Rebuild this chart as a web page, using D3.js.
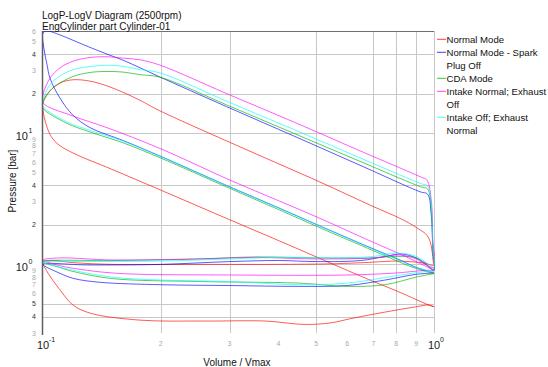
<!DOCTYPE html>
<html><head><meta charset="utf-8">
<script src="https://cdn.jsdelivr.net/npm/d3@7"></script>
<style>body{margin:0;background:#fff;} svg{display:block;font-family:"Liberation Sans",Arial,sans-serif;}</style>
</head><body><svg id="c" width="548" height="367"></svg>
<script>
// ---------- data ----------
const titleLines = ["LogP-LogV Diagram (2500rpm)", "EngCylinder part Cylinder-01"];
const xTitle = "Volume / Vmax";
const yTitle = "Pressure [bar]";
const seriesNames = ["Normal Mode", "Normal Mode - Spark Plug Off", "CDA Mode", "Intake Normal; Exhaust Off", "Intake Off; Exhaust Normal"];
const legendLines = [["Normal Mode"], ["Normal Mode - Spark", "Plug Off"], ["CDA Mode"], ["Intake Normal; Exhaust", "Off"], ["Intake Off; Exhaust", "Normal"]];
const seriesColors = ["#ff0000", "#0000ff", "#00b000", "#ff00ff", "#00ffff"];

const xMajorTicks = [0.1, 1];
const xMinorTicks = [0.2, 0.3, 0.4, 0.5, 0.6, 0.7, 0.8, 0.9];
const xGrid = [0.2, 0.3, 0.5, 0.7, 0.8, 0.9, 1];
const yMajorTicks = [1, 10];
const yMinorTicks = [0.3, 0.4, 0.5, 0.6, 0.7, 0.8, 0.9, 2, 3, 4, 5, 6, 7, 8, 9, 20, 30, 40, 50, 60];
const yGrid = [0.4, 0.5, 1, 2, 4, 10, 20, 40];

// Normal Mode: compression, expansion, exhaust, intake
const normalV = [1.0,0.97,0.9,0.8,0.7,0.6,0.5,0.4,0.3,0.2,0.15,0.12,0.11,0.105,0.102,0.1,
  0.1,0.1042,0.1105,0.1193,0.1319,0.1458,0.160,0.177,0.199,0.333,0.511,0.686,0.8345,0.922,0.959,0.978,0.988,0.996,1.0,
  0.95,0.9,0.8,0.7,0.55,0.4,0.25,0.15,0.12,0.105,0.1,
  0.102,0.1105,0.1193,0.132,0.177,0.262,0.37,0.454,0.5,0.55,0.61,0.74,0.9,0.97,1.0];
const normalP = [0.475,0.49,0.54,0.63,0.74,0.90,1.14,1.52,2.19,3.68,5.3,7.0,8.1,9.4,11.5,15,
  17.5,21.0,24.1,25.5,24.9,22.9,20.5,17.8,14.8,7.43,4.24,2.83,2.18,1.83,1.67,1.49,1.28,1.04,0.98,
  1.02,1.04,1.06,1.04,1.01,1.0,1.0,1.0,1.03,1.07,1.04,
  0.9,0.64,0.49,0.425,0.376,0.37,0.37,0.35,0.35,0.36,0.385,0.43,0.475,0.49,0.475];

// Normal Mode - Spark Plug Off
const sparkOffV = [1.0,0.9,0.818,0.7,0.511,0.4,0.3,0.199,0.16,0.132,0.1193,0.1105,0.1042,0.1024,0.1005,0.1,
  0.1025,0.1105,0.1193,0.1319,0.1458,0.160,0.177,0.199,0.295,0.4366,0.647,0.922,0.963,0.984,0.993,1.0,
  0.95,0.9,0.83,0.75,0.65,0.5,0.4,0.3,0.2,0.13,0.1,
  0.11,0.12,0.14,0.2,0.3,0.45,0.6,0.75,0.9,1.0];
const sparkOffP = [0.86,0.95,1.08,1.31,1.96,2.7,3.9,6.69,8.8,11.0,13.7,18.5,26.2,33.3,44.6,58,
  60,56,51,45,40,36,31.5,26.8,15.9,9.55,5.69,3.57,3.43,2.38,1.28,0.9,
  1.02,1.12,1.2,1.15,1.07,1.05,1.07,1.05,1.0,0.99,1.0,
  0.86,0.78,0.73,0.70,0.69,0.68,0.69,0.76,0.84,0.86];

// CDA Mode
const cdaV = [1.0,0.9,0.818,0.7,0.511,0.4,0.3,0.199,0.16,0.1319,0.115,0.1,
  0.1,0.1042,0.1105,0.1193,0.1319,0.1458,0.160,0.177,0.199,0.295,0.4366,0.647,0.922,0.963,0.984,0.993,1.0,
  0.95,0.9,0.8,0.7,0.5,0.35,0.25,0.15,0.1,
  0.11,0.12,0.15,0.25,0.45,0.6,0.75,0.9,1.0];
const cdaP = [0.85,0.93,1.04,1.27,1.9,2.62,3.8,6.5,8.45,10.2,11.9,15.5,
  16.9,21.0,24.1,27.0,29.0,29.5,29.2,27.9,26.7,16.4,10.0,6.09,3.91,3.75,2.59,1.33,0.92,
  1.0,1.12,1.15,1.12,1.12,1.14,1.1,1.07,1.05,
  0.95,0.88,0.78,0.74,0.72,0.68,0.70,0.80,0.85];

// Intake Normal; Exhaust Off
const inNormExOffV = [1.0,0.9,0.818,0.7,0.511,0.4,0.3,0.199,0.1458,0.1193,0.1,
  0.1,0.1042,0.1105,0.1193,0.1319,0.1458,0.160,0.177,0.199,0.295,0.4366,0.647,0.922,0.959,0.984,0.993,1.0,
  0.95,0.9,0.82,0.7,0.5,0.35,0.25,0.15,0.11,0.1,
  0.11,0.13,0.16,0.3,0.6,0.8,0.95,1.0];
const inNormExOffP = [0.90,1.05,1.2,1.47,2.24,3.06,4.4,7.65,11.0,13.5,17,
  19.6,26.2,31.4,35.3,37.7,38.2,37.3,36.2,33.0,20.0,12.2,7.33,4.65,4.39,3.09,1.53,0.95,
  1.0,1.1,1.18,1.12,1.1,1.13,1.1,1.08,1.12,1.08,
  0.98,0.9,0.85,0.83,0.83,0.86,0.9,0.90];

// Intake Off; Exhaust Normal
const inOffExNormV = [1.0,0.9,0.818,0.7,0.511,0.4,0.3,0.199,0.16,0.1319,0.115,0.1,
  0.1,0.1042,0.1105,0.1193,0.1319,0.1458,0.160,0.177,0.199,0.295,0.4366,0.647,0.922,0.963,0.984,0.993,1.0,
  0.97,0.9,0.8,0.7,0.55,0.4,0.3,0.2,0.12,0.1,
  0.12,0.15,0.2,0.3,0.45,0.6,0.8,0.95,1.0];
const inOffExNormP = [0.87,0.95,1.07,1.3,1.96,2.7,3.9,6.69,8.7,10.5,12.2,16,
  17.9,23.4,27.2,30.4,32.2,32.9,32.3,30.5,28.8,17.5,10.7,6.48,4.14,3.95,2.83,1.40,0.93,
  1.0,1.15,1.22,1.15,1.12,1.13,1.1,1.06,1.05,1.04,
  0.9,0.8,0.76,0.74,0.70,0.72,0.82,0.88,0.88];

const seriesV = [normalV, sparkOffV, cdaV, inNormExOffV, inOffExNormV];
const seriesP = [normalP, sparkOffP, cdaP, inNormExOffP, inOffExNormP];

// ---------- chart ----------
const svg = d3.select("#c");
const L = 43, R = 434, T = 31, B = 333;
const x = d3.scaleLog().domain([0.1, 1]).range([L, R]);
const y = d3.scaleLog().domain([0.3, 60]).range([B, T]);

// grid
const g = svg.append("g");
g.selectAll(".vg").data(xGrid).enter().append("line")
  .attr("x1", d => Math.round(x(d)) + 0.5).attr("x2", d => Math.round(x(d)) + 0.5)
  .attr("y1", T).attr("y2", B).attr("stroke", "#c8c8c8").attr("stroke-width", 1);
g.selectAll(".hg").data(yGrid).enter().append("line")
  .attr("x1", L).attr("x2", R)
  .attr("y1", d => Math.round(y(d)) + 0.5).attr("y2", d => Math.round(y(d)) + 0.5)
  .attr("stroke", "#c8c8c8").attr("stroke-width", 1);

// frame
svg.append("line").attr("x1", L - 0.5).attr("x2", R).attr("y1", T + 0.5).attr("y2", T + 0.5).attr("stroke", "#707070");
svg.append("line").attr("x1", L - 0.5).attr("x2", L - 0.5).attr("y1", T).attr("y2", B + 2).attr("stroke", "#606060").attr("stroke-width", 1.5);

// series
const line = d3.line().x(d => x(d[0])).y(d => y(d[1])).curve(d3.curveCatmullRom.alpha(0.5));
const clip = svg.append("clipPath").attr("id", "pc").append("rect").attr("x", L).attr("y", T).attr("width", R - L + 1).attr("height", B - T);
const sg = svg.append("g").attr("clip-path", "url(#pc)");
seriesV.forEach((vs, i) => {
  const pts = vs.map((v, k) => [v, seriesP[i][k]]);
  sg.append("path").attr("d", line(pts)).attr("fill", "none")
    .attr("stroke", seriesColors[i]).attr("stroke-width", 0.9).attr("stroke-opacity", 0.72);
});

// y tick labels
const yl = svg.append("g");
yl.selectAll(".ymin").data(yMinorTicks).enter().append("text")
  .attr("x", 34).attr("y", d => y(d) + 2.5).attr("text-anchor", "middle")
  .attr("font-size", 7).attr("fill", d => yGrid.includes(d) ? "#333" : "#aaa")
  .text(d => String(Math.round(d / Math.pow(10, Math.floor(Math.log10(d) + 1e-9)))));
yMajorTicks.forEach(d => {
  yl.append("text").attr("x", 28).attr("y", y(d) + 7).attr("text-anchor", "end").attr("font-size", 11).attr("fill", "#222").text("10");
  yl.append("text").attr("x", 28.5).attr("y", y(d) - 0.5).attr("font-size", 7).attr("fill", "#222").text(String(Math.round(Math.log10(d))));
});

// x tick labels
const xl = svg.append("g");
xl.selectAll(".xmin").data(xMinorTicks).enter().append("text")
  .attr("x", d => x(d)).attr("y", 345.5).attr("text-anchor", "middle")
  .attr("font-size", 7).attr("fill", "#aaa")
  .text(d => String(Math.round(d * 10)));
xMajorTicks.forEach(d => {
  xl.append("text").attr("x", x(d)).attr("y", 349).attr("text-anchor", "middle").attr("font-size", 11).attr("fill", "#222").text("10");
  xl.append("text").attr("x", x(d) + 6).attr("y", 342).attr("font-size", 7).attr("fill", "#222").text(String(Math.round(Math.log10(d))));
});

// axis titles
svg.append("text").attr("x", 237).attr("y", 365.5).attr("text-anchor", "middle").attr("font-size", 10).attr("fill", "#111").text(xTitle);
svg.append("text").attr("transform", "translate(16,181) rotate(-90)").attr("text-anchor", "middle").attr("font-size", 10).attr("fill", "#111").text(yTitle);

// title
titleLines.forEach((t, i) => {
  svg.append("text").attr("x", 42).attr("y", 19 + i * 11).attr("font-size", 10).attr("fill", "#111").text(t);
});

// legend
const lg = svg.append("g");
let row = 0;
legendLines.forEach((lines, i) => {
  const cy = 39.3 + row * 13;
  lg.append("line").attr("x1", 437).attr("x2", 446).attr("y1", cy).attr("y2", cy).attr("stroke", seriesColors[i]).attr("stroke-width", 1).attr("stroke-opacity", 0.75);
  lines.forEach((t, k) => {
    lg.append("text").attr("x", 446.5).attr("y", cy + 3.6 + k * 13).attr("font-size", 9.6).attr("fill", "#111").text(t);
  });
  row += lines.length;
});
</script></body></html>
